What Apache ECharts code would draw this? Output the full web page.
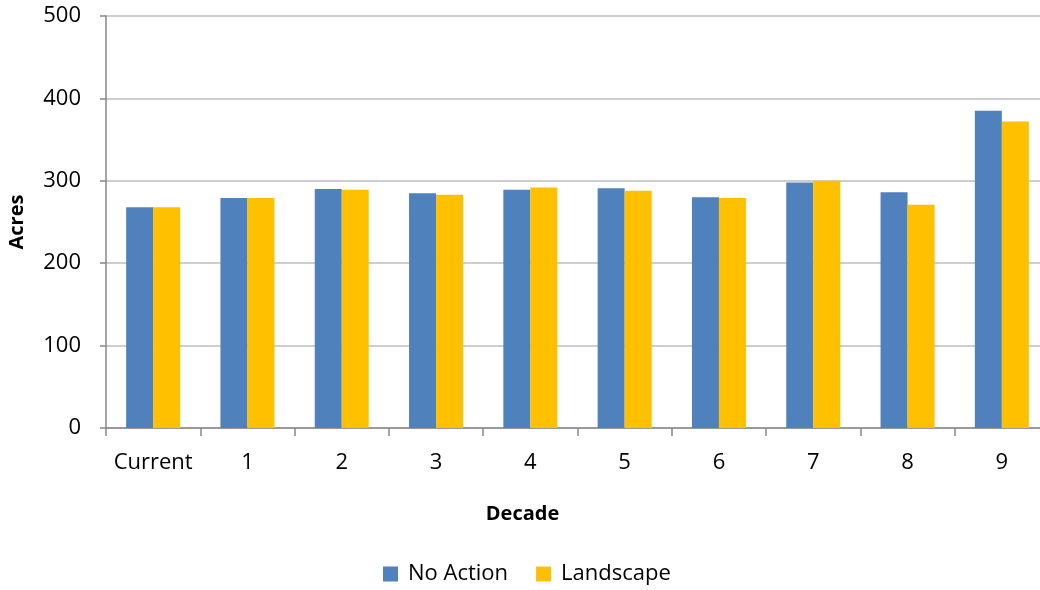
<!DOCTYPE html>
<html><head><meta charset="utf-8">
<script src="https://cdn.jsdelivr.net/npm/echarts@6/dist/echarts.min.js"></script>
<style>html,body{margin:0;padding:0;background:#fff}#c{width:1040px;height:590px}</style>
</head><body><div id="c"></div>
<script>
const categories = ['Current','1','2','3','4','5','6','7','8','9'];
const noAction = [268, 279, 290, 285, 289, 291, 280, 298, 286, 385];
const landscape = [268, 279, 289, 283, 292, 288, 279, 300, 271, 372];
const yTicks = [0, 100, 200, 300, 400, 500];
const FONT = '"Open Sans", "Noto Sans", sans-serif';
const chart = echarts.init(document.getElementById('c'), null, {renderer: 'canvas'});
chart.setOption({
  animation: false,
  textStyle: {fontFamily: FONT},
  grid: {left: 106, top: 16, width: 943, height: 412, containLabel: false, outerBoundsMode: 'none'},
  legend: {
    top: 563, left: 383, itemWidth: 15, itemHeight: 15, itemGap: 28,
    icon: 'rect', padding: 0,
    textStyle: {fontSize: 22, color: '#000', fontFamily: FONT, padding: [0, 0, 0, 5]},
    data: ['No Action', 'Landscape']
  },
  xAxis: {
    type: 'category', data: categories,
    name: 'Decade', nameLocation: 'middle', nameGap: 76,
    nameTextStyle: {fontSize: 20, fontWeight: 'bold', color: '#000', fontFamily: FONT, padding: [0, 0, 0, -110]},
    axisLine: {lineStyle: {color: '#888', width: 1.5}},
    axisTick: {show: true, length: 8, interval: 0, alignWithLabel: false, lineStyle: {color: '#888', width: 1.5}},
    axisLabel: {fontSize: 22, color: '#000', margin: 24, interval: 0, fontFamily: FONT}
  },
  yAxis: {
    type: 'value', min: 0, max: 500, interval: 100,
    name: 'Acres', nameLocation: 'middle', nameGap: 79, nameRotate: 90,
    nameTextStyle: {fontSize: 20, fontWeight: 'bold', color: '#000', fontFamily: FONT},
    axisLine: {show: true, lineStyle: {color: '#888', width: 1.5}},
    axisTick: {show: true, length: 6, inside: false, lineStyle: {color: '#888', width: 1.5}},
    axisLabel: {fontSize: 22, color: '#000', margin: 25, fontFamily: FONT,
      formatter: v => yTicks.includes(v) ? String(v) : ''},
    splitLine: {lineStyle: {color: '#bebebe', width: 1.5}}
  },
  series: [
    {name: 'No Action', type: 'bar', data: noAction, barWidth: 27, barGap: '0%',
      itemStyle: {color: '#4F81BD'}},
    {name: 'Landscape', type: 'bar', data: landscape, barWidth: 27, barGap: '0%',
      itemStyle: {color: '#FFC000'}}
  ]
});
</script></body></html>
